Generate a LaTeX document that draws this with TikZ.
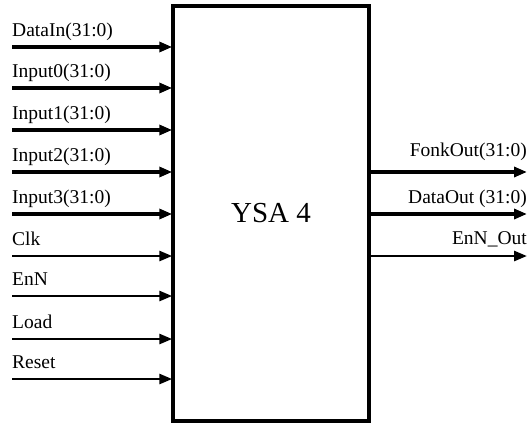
\documentclass[tikz,border=0pt]{standalone}
\usepackage{fontspec}
\setmainfont{Liberation Serif}
\usetikzlibrary{arrows.meta}
\begin{document}
\begin{tikzpicture}[x=1pt,y=-1pt,
  sig/.style={font=\fontsize{19.5}{20}\selectfont, inner sep=0pt},
  busline/.style={line width=3.8pt, -{Triangle[length=13pt,width=10pt]}},
  ctlline/.style={line width=2.7pt, -{Triangle[length=13pt,width=10pt]}},
  block/.style={draw, line width=3.5pt, minimum width=196pt, minimum height=415pt, inner sep=0pt, font=\fontsize{29}{30}\selectfont}]
\useasboundingbox (0,0) rectangle (527,423);
\node[block] (ysa) at (271,213.3) {YSA 4};
% inputs
\foreach \name/\lab/\y/\sty in {di/DataIn(31:0)/47/busline, ia/Input0(31:0)/88/busline, ib/Input1(31:0)/130/busline, ic/Input2(31:0)/172/busline, id/Input3(31:0)/214/busline, clk/Clk/256/ctlline, enn/EnN/296/ctlline, load/Load/339/ctlline, rst/Reset/379/ctlline}{
  \coordinate (\name s) at (12,\y);
  \coordinate (\name e) at (ysa.west |- 0,\y);
  \draw[\sty, shorten >=-1pt] (\name s) -- (\name e);
  \node[sig, anchor=base west] (\name l) at (12,\y-11) {\lab};
}
% outputs
\foreach \name/\lab/\y/\dy/\sty in {fo/FonkOut(31:0)/172/16/busline, do/DataOut (31:0)/214/11/busline, eo/EnN\_Out/256/12/ctlline}{
  \coordinate (\name s) at (ysa.east |- 0,\y);
  \coordinate (\name e) at (527,\y);
  \draw[\sty] (\name s) -- (\name e);
  \node[sig, anchor=base east] (\name l) at (527,\y-\dy) {\lab};
}
\end{tikzpicture}
\end{document}
